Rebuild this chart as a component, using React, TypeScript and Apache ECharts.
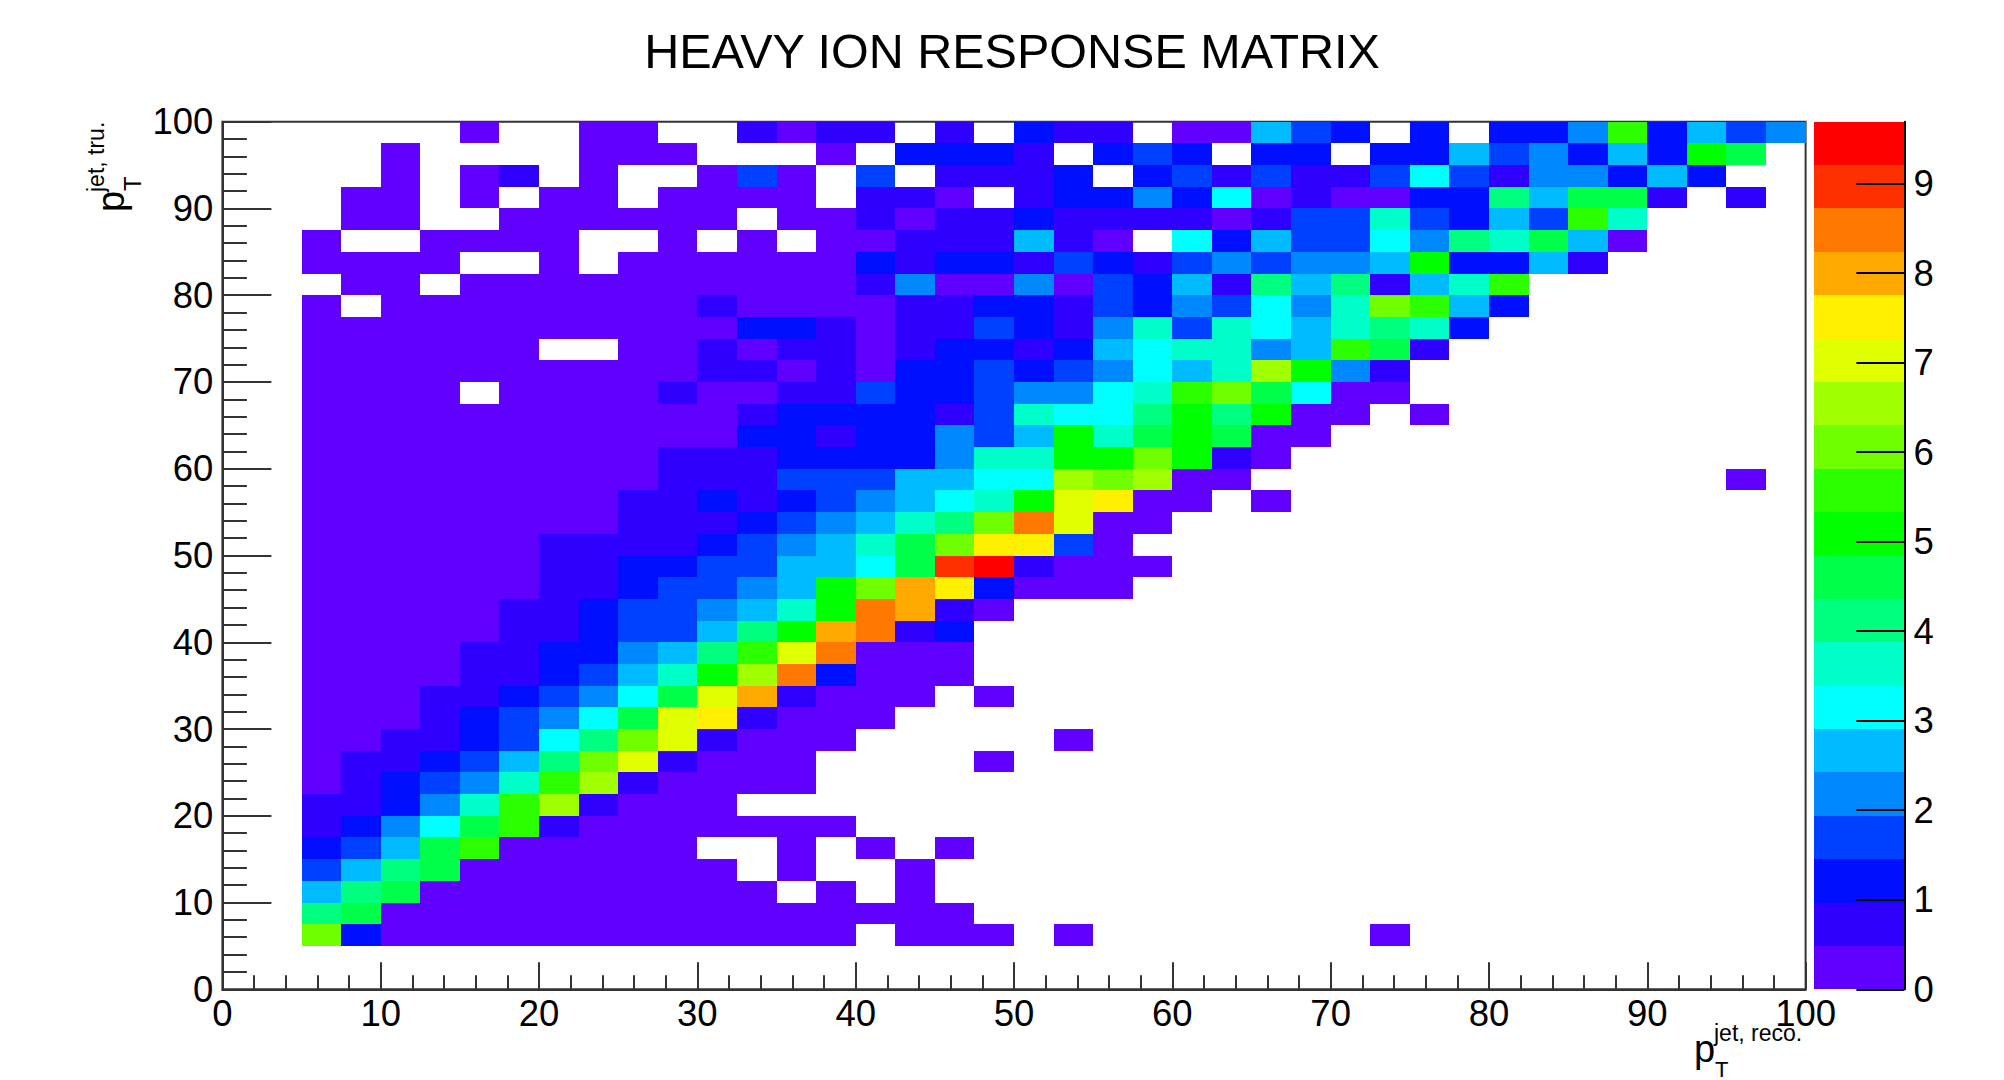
import React, { useEffect, useRef } from "react";
import * as echarts from "echarts";

const _ = null;
const titleText = "HEAVY ION RESPONSE MATRIX";
const firstBinEdge = 5;
const binWidth = 2.5;
const zMax = 9.69;

const bandColors = [
  "#6000ff", "#3000ff", "#0010ff", "#0040ff", "#0088ff", "#00bbff", "#00ffff", "#00ffc8", "#00ff80", "#00ff48",
  "#00ff00", "#2cff00", "#70ff00", "#a0ff00", "#e0ff00", "#fff000", "#ffa800", "#ff7800", "#ff3000", "#ff0000",
];

// Rows of z values, top (97.5-100) to bottom (5-7.5); each row starts at x = 5, trailing empty bins omitted.
const row975 = [_,_,_,_,.2,_,_,.2,.2,_,_,.7,.2,.7,.7,_,.7,_,1.2,.7,.7,_,.2,.2,2.7,1.7,1.2,_,1.2,_,1.2,1.2,2.2,5.6,1.2,2.7,1.7,2.2];
const row950 = [_,_,.2,_,_,_,_,.2,.2,.2,_,_,_,.2,_,1.2,1.2,1.2,.7,_,1.2,1.7,1.2,_,1.2,1.2,_,1.2,1.2,2.7,1.7,2.2,1.2,2.7,1.2,5.1,4.6];
const row925 = [_,_,.2,_,.2,.7,_,.2,_,_,.2,1.7,.2,_,1.7,_,.7,.7,.7,1.2,_,1.2,1.7,.7,1.7,.7,.7,1.7,3.2,1.7,.7,2.2,2.2,1.2,2.7,1.2];
const row900 = [_,.2,.2,_,.2,_,.2,.2,_,.2,.2,.2,.2,_,.7,.7,.2,_,.7,1.2,1.2,2.2,1.2,3.2,.2,.7,.2,.2,1.2,1.2,4.1,2.7,4.6,4.6,.7,_,.7];
const row875 = [_,.2,.2,_,_,.2,.2,.2,.2,.2,.2,_,.2,.2,.7,.2,.7,.7,1.2,.7,.7,.7,.7,.2,.7,1.7,1.7,3.6,1.7,1.2,2.7,1.7,5.6,3.6];
const row850 = [.2,_,_,.2,.2,.2,.2,_,_,.2,_,.2,_,.2,.2,.7,.7,.7,2.7,.7,.2,_,3.2,1.2,2.7,1.7,1.7,3.2,2.2,4.1,3.6,4.6,2.7,.2];
const row825 = [.2,.2,.2,.2,_,_,.2,_,.2,.2,.2,.2,.2,.2,1.2,.7,1.2,1.2,.7,1.7,1.2,.7,1.7,2.2,1.7,2.2,2.2,2.7,5.1,1.2,1.2,2.7,.7];
const row800 = [_,.2,.2,_,.2,.2,.2,.2,.2,.2,.2,.2,.2,.2,.7,2.2,.2,.2,2.2,.2,1.7,1.2,2.7,.7,4.1,2.7,4.1,.7,2.7,3.6,5.6];
const row775 = [.2,_,.2,.2,.2,.2,.2,.2,.2,.2,.7,.2,.2,.2,.2,.7,.7,1.2,1.2,.7,1.7,1.2,2.2,1.7,3.2,2.2,3.6,6.1,5.6,2.7,1.2];
const row750 = [.2,.2,.2,.2,.2,.2,.2,.2,.2,.2,.2,1.2,1.2,.7,.2,.7,.7,1.7,1.2,.7,2.2,3.6,1.7,3.6,3.2,2.7,3.6,4.1,3.6,1.2];
const row725 = [.2,.2,.2,.2,.2,.2,_,_,.2,.2,.7,.2,.7,.7,.2,.7,1.2,1.2,.7,1.2,2.7,3.2,3.6,3.6,2.2,2.7,5.6,4.6,.7];
const row700 = [.2,.2,.2,.2,.2,.2,.2,.2,.2,.2,.7,.7,.2,.7,.2,1.2,1.2,1.7,1.2,1.7,2.2,3.2,2.7,3.6,6.6,5.1,2.2,.7];
const row675 = [.2,.2,.2,.2,_,.2,.2,.2,.2,.7,.2,.2,.7,.7,1.7,1.2,1.2,1.7,2.2,2.2,3.2,3.6,5.6,6.1,4.6,3.2,.2,.2];
const row650 = [.2,.2,.2,.2,.2,.2,.2,.2,.2,.2,.2,.7,1.2,1.2,1.2,1.2,.7,1.7,3.6,3.2,3.2,4.1,5.1,4.1,5.1,.2,.2,_,.2];
const row625 = [.2,.2,.2,.2,.2,.2,.2,.2,.2,.2,.2,1.2,1.2,.7,1.2,1.2,2.2,1.7,2.7,5.1,3.6,4.6,5.1,4.6,.2,.2];
const row600 = [.2,.2,.2,.2,.2,.2,.2,.2,.2,.7,.7,.7,1.2,1.2,1.2,1.2,2.2,3.6,3.6,5.1,5.1,6.1,5.1,.7,.2];
const row575 = [.2,.2,.2,.2,.2,.2,.2,.2,.2,.7,.7,.7,1.7,1.7,1.7,2.7,2.7,3.2,3.2,6.6,6.1,6.6,.2,.2,_,_,_,_,_,_,_,_,_,_,_,_,.2];
const row550 = [.2,.2,.2,.2,.2,.2,.2,.2,.7,.7,1.2,.7,1.2,1.7,2.2,2.7,3.2,3.6,5.1,7,7.5,.2,.2,_,.2];
const row525 = [.2,.2,.2,.2,.2,.2,.2,.2,.7,.7,.7,1.2,1.7,2.2,2.7,3.6,4.1,6.1,8.5,7,.2,.2];
const row500 = [.2,.2,.2,.2,.2,.2,.7,.7,.7,.7,1.2,1.7,2.2,2.7,3.6,4.6,6.1,7.5,7.5,1.7,.2];
const row475 = [.2,.2,.2,.2,.2,.2,.7,.7,1.2,1.2,1.7,1.7,2.7,2.7,3.2,4.6,9,9.5,.7,.2,.2,.2];
const row450 = [.2,.2,.2,.2,.2,.2,.7,.7,1.2,1.7,1.7,2.2,2.7,5.1,6.1,8,7.5,1.2,.2,.2,.2];
const row425 = [.2,.2,.2,.2,.2,.7,.7,1.2,1.7,1.7,2.2,2.7,3.6,5.1,8.5,8,.7,.2];
const row400 = [.2,.2,.2,.2,.2,.7,.7,1.2,1.7,1.7,2.7,4.1,5.1,8,8.5,.7,1.2];
const row375 = [.2,.2,.2,.2,.7,.7,1.2,1.2,2.2,2.7,4.1,5.6,7,8.5,.2,.2,.2];
const row350 = [.2,.2,.2,.2,.7,.7,1.2,1.7,2.7,3.6,5.1,6.6,8.5,1.2,.2,.2,.2];
const row325 = [.2,.2,.2,.7,.7,1.2,1.7,2.2,3.2,4.6,7,8,.7,.2,.2,.2,_,.2];
const row300 = [.2,.2,.2,.7,1.2,1.7,2.2,3.2,4.6,7,7.5,.7,.2,.2,.2];
const row275 = [.2,.2,.7,.7,1.2,1.7,3.2,4.1,6.1,7,.7,.2,.2,.2,_,_,_,_,_,.2];
const row250 = [.2,.7,.7,1.2,1.7,2.7,4.1,6.1,7,.7,.2,.2,.2,_,_,_,_,.2];
const row225 = [.2,.7,1.2,1.7,2.2,3.6,5.6,6.6,.7,.2,.2,.2,.2];
const row200 = [.7,.7,1.2,2.2,3.6,5.6,6.6,.7,.2,.2,.2];
const row175 = [.7,1.2,2.2,3.2,4.6,5.6,.7,.2,.2,.2,.2,.2,.2,.2];
const row150 = [1.2,1.7,2.7,4.6,5.6,.2,.2,.2,.2,.2,_,_,.2,_,.2,_,.2];
const row125 = [1.7,2.7,4.1,4.6,.2,.2,.2,.2,.2,.2,.2,_,.2,_,_,.2];
const row100 = [2.7,4.1,4.6,.2,.2,.2,.2,.2,.2,.2,.2,.2,_,.2,_,.2];
const row075 = [4.1,4.6,.2,.2,.2,.2,.2,.2,.2,.2,.2,.2,.2,.2,.2,.2,.2];
const row050 = [6.1,1.2,.2,.2,.2,.2,.2,.2,.2,.2,.2,.2,.2,.2,_,.2,.2,.2,_,.2,_,_,_,_,_,_,_,.2];

const rowsTopDown = [
  row975, row950, row925, row900, row875, row850, row825, row800, row775, row750, row725, row700, row675,
  row650, row625, row600, row575, row550, row525, row500, row475, row450, row425, row400, row375, row350,
  row325, row300, row275, row250, row225, row200, row175, row150, row125, row100, row075, row050,
];

const bandWidth = zMax / bandColors.length;
const colorOf = (z: number) => bandColors[Math.min(bandColors.length - 1, Math.floor(z / bandWidth))];

const cellData: number[][] = [];
rowsTopDown.forEach((row, r) => {
  const yLow = 100 - binWidth * (r + 1);
  row.forEach((z, c) => {
    if (z !== null) cellData.push([firstBinEdge + c * binWidth, yLow, z]);
  });
});
const bandData = bandColors.map((_c, i) => [i * bandWidth, (i + 1) * bandWidth, i]);

const FONT = "'Liberation Sans', Arial, Helvetica, sans-serif";
const AXIS_COLOR = "#333333";

function pixelRect(a: number[], b: number[]) {
  const x0 = Math.round(a[0]), y0 = Math.round(a[1]);
  return { x: x0, y: y0, width: Math.round(b[0]) - x0, height: Math.round(b[1]) - y0 };
}

export default function App() {
  const ref = useRef<HTMLDivElement>(null);
  useEffect(() => {
    const chart = echarts.init(ref.current!, undefined, { renderer: "svg" });
    const label = { color: "#000", fontFamily: FONT, fontSize: 36.5 };
    chart.setOption({
      animation: false,
      backgroundColor: "#fff",
      title: {
        text: titleText,
        left: 1007,
        top: 21,
        textAlign: "center",
        textStyle: { color: "#000", fontFamily: FONT, fontSize: 48.5, fontWeight: "normal" },
      },
      grid: [
        { left: 222.4, top: 121.7, width: 1583.2, height: 867.6, show: true, borderColor: AXIS_COLOR, borderWidth: 2, backgroundColor: "#fff" },
        { left: 1813.7, top: 121.7, width: 90.7, height: 867.6 },
      ],
      xAxis: [
        {
          type: "value", gridIndex: 0, min: 0, max: 100, interval: 10, z: 5,
          axisLine: { show: true, onZero: false, lineStyle: { color: AXIS_COLOR, width: 2 } },
          axisTick: { show: true, inside: true, length: 27, lineStyle: { color: AXIS_COLOR, width: 2 } },
          minorTick: { show: true, splitNumber: 5, length: 14, lineStyle: { color: AXIS_COLOR, width: 2 } },
          splitLine: { show: false },
          axisLabel: { ...label, margin: 6, showMinLabel: true, showMaxLabel: true },
        },
        { type: "value", gridIndex: 1, min: 0, max: 1, show: false },
      ],
      yAxis: [
        {
          type: "value", gridIndex: 0, min: 0, max: 100, interval: 10, z: 5,
          axisLine: { show: true, onZero: false, lineStyle: { color: AXIS_COLOR, width: 2 } },
          axisTick: { show: true, inside: true, length: 49, lineStyle: { color: AXIS_COLOR, width: 2 } },
          minorTick: { show: true, splitNumber: 5, length: 24.5, lineStyle: { color: AXIS_COLOR, width: 2 } },
          splitLine: { show: false },
          axisLabel: { ...label, margin: 9, showMinLabel: true, showMaxLabel: true },
        },
        {
          type: "value", gridIndex: 1, position: "right", min: 0, max: zMax, interval: 1, z: 5,
          axisLine: { show: true, onZero: false, lineStyle: { color: "#000", width: 2 } },
          axisTick: { show: true, inside: true, length: 48, lineStyle: { color: "#000", width: 2 } },
          minorTick: { show: false },
          splitLine: { show: false },
          axisLabel: { ...label, margin: 9, showMaxLabel: false },
        },
      ],
      series: [
        {
          type: "custom",
          xAxisIndex: 0,
          yAxisIndex: 0,
          data: cellData,
          encode: { x: 0, y: 1 },
          clip: false,
          renderItem: (_p: any, api: any) => {
            const x0 = api.value(0), y0 = api.value(1);
            return {
              type: "rect",
              shape: pixelRect(api.coord([x0, y0 + binWidth]), api.coord([x0 + binWidth, y0])),
              style: { fill: colorOf(api.value(2)) },
            };
          },
        },
        {
          type: "custom",
          xAxisIndex: 1,
          yAxisIndex: 1,
          data: bandData,
          encode: { y: [0, 1] },
          clip: false,
          renderItem: (_p: any, api: any) => {
            return {
              type: "rect",
              shape: pixelRect(api.coord([0, api.value(1)]), api.coord([1, api.value(0)])),
              style: { fill: bandColors[api.value(2)] },
            };
          },
        },
      ],
      graphic: [
        { type: "text", x: 1694, y: 1030, style: { text: "p", font: `38px ${FONT}`, fill: "#000" } },
        { type: "text", x: 1715, y: 1058, style: { text: "T", font: `22px ${FONT}`, fill: "#000" } },
        { type: "text", x: 1714, y: 1021, style: { text: "jet, reco.", font: `23px ${FONT}`, fill: "#000" } },
        { type: "text", x: 92, y: 212, rotation: Math.PI / 2, style: { text: "p", font: `38px ${FONT}`, fill: "#000" } },
        { type: "text", x: 120, y: 191, rotation: Math.PI / 2, style: { text: "T", font: `24px ${FONT}`, fill: "#000" } },
        { type: "text", x: 84, y: 192, rotation: Math.PI / 2, style: { text: "jet, tru.", font: `23px ${FONT}`, fill: "#000" } },
      ],
    });
    return () => chart.dispose();
  }, []);
  return <div ref={ref} style={{ position: "fixed", left: 0, top: 0, width: 2004, height: 1080 }} />;
}
